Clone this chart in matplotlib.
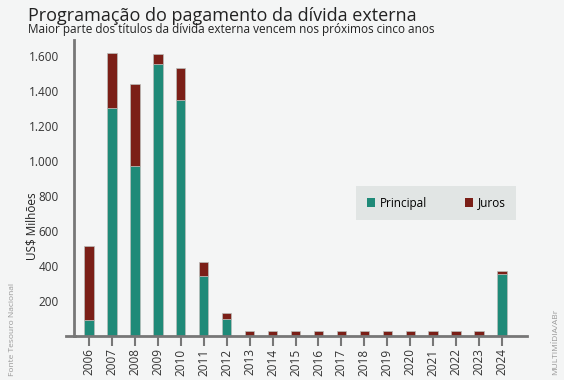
import matplotlib
matplotlib.use("Agg")
import matplotlib.pyplot as plt
from matplotlib.ticker import FuncFormatter
from matplotlib.lines import Line2D

anos = [str(a) for a in range(2006, 2025)]
principal = [90, 1300, 970, 1555, 1345, 342, 97, 0, 0, 0, 0, 0, 0, 0, 0, 0, 0, 0, 352]
juros = [425, 315, 470, 55, 188, 80, 36, 28, 28, 28, 28, 28, 28, 28, 28, 28, 28, 28, 18]
yticks = [200, 400, 600, 800, 1000, 1200, 1400, 1600]

bg = "#f4f5f5"
cor_principal = "#1f8a78"
cor_juros = "#7b1f17"

plt.rcParams['font.family'] = ['Open Sans', 'DejaVu Sans']

fig = plt.figure(figsize=(5.64, 3.8), dpi=100, facecolor=bg)
ax = fig.add_axes([0.1312, 0.1158, 0.8032, 0.7789], facecolor=bg)

x = list(range(len(anos)))
ax.bar(x, principal, width=0.41, color=cor_principal, edgecolor="#b9bdb9", linewidth=0.5, label="Principal")
ax.bar(x, juros, width=0.41, bottom=principal, color=cor_juros, edgecolor="#b9bdb9", linewidth=0.5, label="Juros")

ax.set_xlim(-0.655, 19.09)
ax.set_ylim(0, 1690)
ax.set_xticks(x)
ax.set_xticklabels(anos, rotation=90, fontsize=8.5, color="#333333")
ax.set_yticks(yticks)
ax.yaxis.set_major_formatter(FuncFormatter(lambda v, p: f"{int(v):,}".replace(",", ".")))
ax.tick_params(axis="y", length=0, labelsize=8.5, labelcolor="#333333", pad=11)
ax.tick_params(axis="x", length=7, width=1.5, color="#777777", pad=2)

for s in ["top", "right"]:
    ax.spines[s].set_visible(False)
for s in ["left", "bottom"]:
    ax.spines[s].set_color("#777777")
    ax.spines[s].set_linewidth(2)

# little stub of the baseline left of the y axis
fig.add_artist(Line2D([66 / 564, 75 / 564], [0.1145, 0.1145], color="#777777", lw=2))

fig.text(32 / 564, 1 - 226 / 380, "US$ Milhões", rotation=90,
         fontsize=8.5, color="#222222", ha="center", va="center")

fig.text(28 / 564, 1 - 16 / 380, "Programação do pagamento da dívida externa",
         fontsize=13, color="#222222", va="center")
fig.text(28 / 564, 1 - 30 / 380, "Maior parte dos títulos da dívida externa vencem nos próximos cinco anos",
         fontsize=8.5, color="#222222", va="center")
fig.text(13 / 564, 1 - 329 / 380, "Fonte Tesouro Nacional", rotation=90,
         fontsize=6, color="#999999", ha="center", va="center")
fig.text(556 / 564, 1 - 342 / 380, "MULTIMÍDIA/ABr", rotation=90,
         fontsize=6, color="#999999", ha="center", va="center")

leg = fig.legend(loc="center", bbox_to_anchor=(436 / 564, 1 - 203 / 380), ncol=2,
                 frameon=True, fancybox=False, fontsize=8.5, handlelength=0.7,
                 handleheight=0.7, columnspacing=3.2, handletextpad=0.4,
                 borderpad=0.9)
leg.get_frame().set_facecolor("#e1e5e4")
leg.get_frame().set_edgecolor("none")
leg.get_frame().set_alpha(1)
for h in leg.legend_handles:
    h.set_edgecolor("none")

fig.savefig("out.png", dpi=100, facecolor=bg)
